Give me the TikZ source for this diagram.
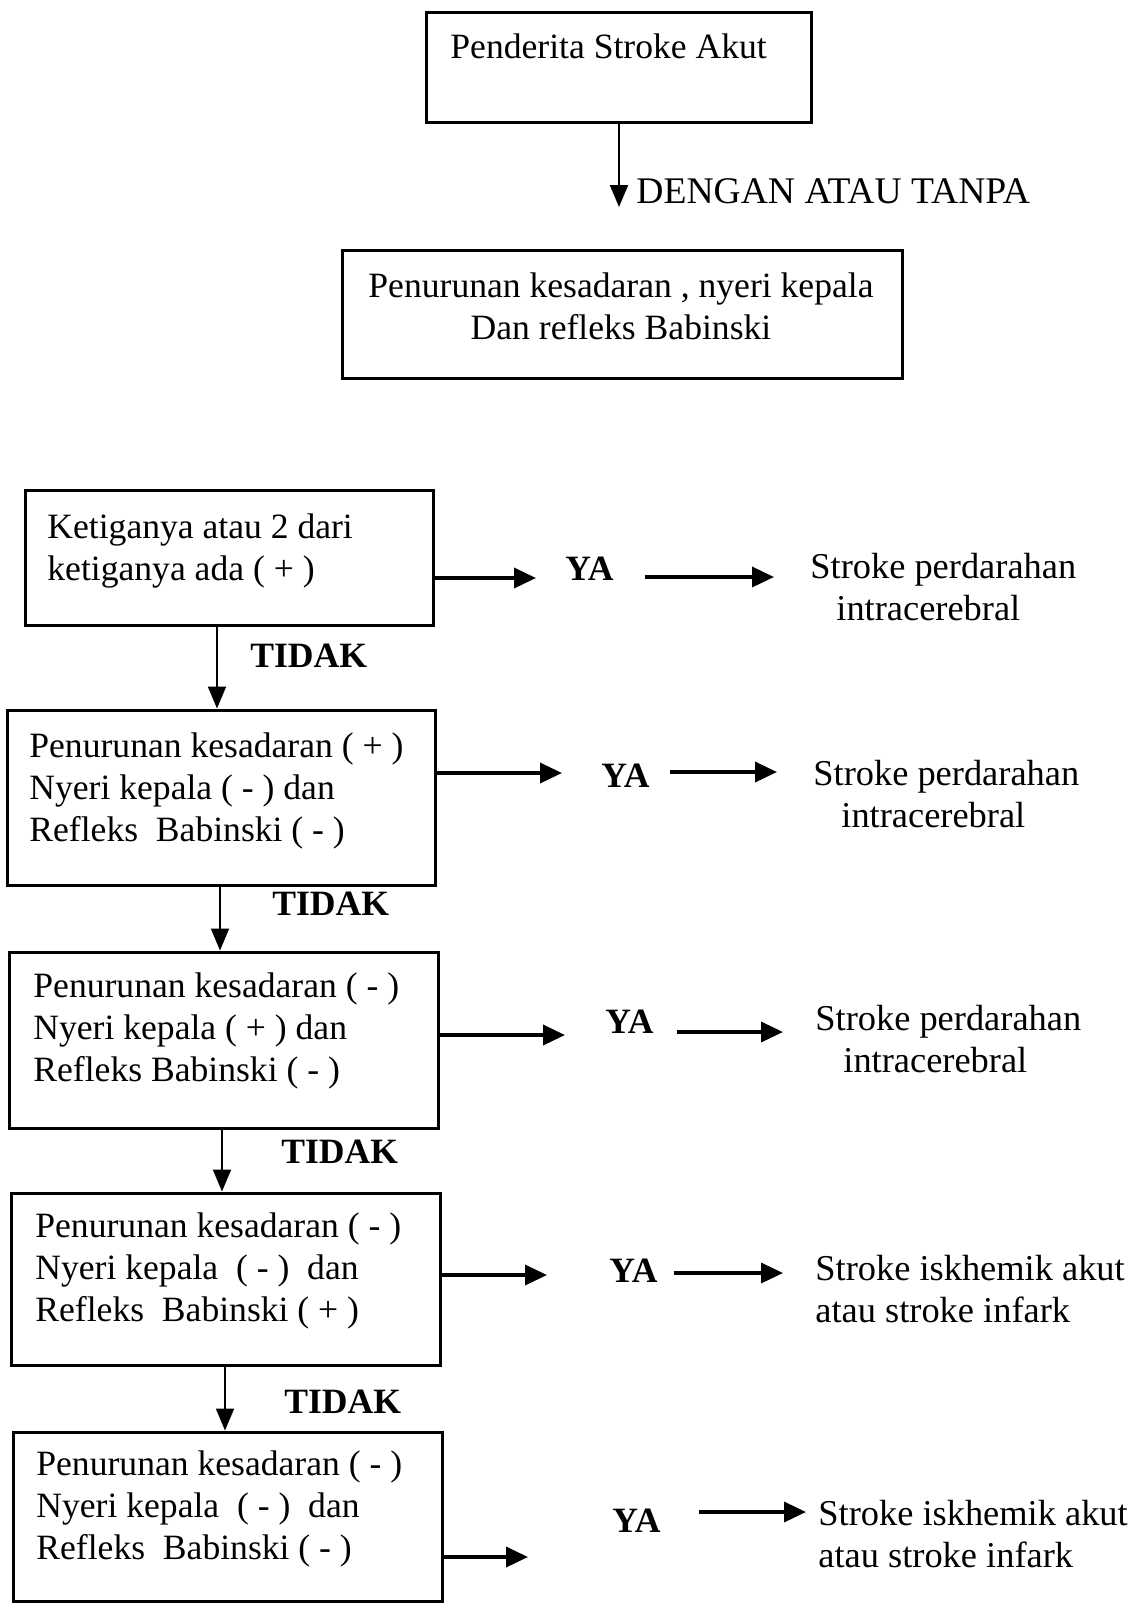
\documentclass[tikz,border=0pt]{standalone}
\usepackage{fontspec}
\setmainfont{Liberation Serif}
\usetikzlibrary{arrows.meta,fit,calc}
\begin{document}
\begin{tikzpicture}[x=0.5pt,y=-0.5pt,
  box/.style={draw, line width=1.5pt, inner sep=0pt},
  txt/.style={anchor=base west, inner sep=0pt, font=\fontsize{17.8}{21}\selectfont},
  rtxt/.style={txt, font=\fontsize{18.2}{21}\selectfont},
  btxt/.style={txt, font=\fontsize{17.8}{21}\selectfont\bfseries},
  varr/.style={line width=1pt, -{Triangle[length=11pt,width=9pt]}},
  harr/.style={line width=1.8pt, -{Triangle[length=11pt,width=10pt]}}
]
\useasboundingbox (0,0) rectangle (1131,1603);

% box corners
\coordinate (c1a) at (426,12);   \coordinate (c1b) at (811,122);
\coordinate (c2a) at (342,250);  \coordinate (c2b) at (902,378);
\coordinate (c3a) at (25,490);   \coordinate (c3b) at (433,625);
\coordinate (c4a) at (7,710);    \coordinate (c4b) at (435,885);
\coordinate (c5a) at (9,952);    \coordinate (c5b) at (438,1128);
\coordinate (c6a) at (11,1193);  \coordinate (c6b) at (440,1365);
\coordinate (c7a) at (13,1432);  \coordinate (c7b) at (442,1601);

% boxes
\node[box, fit=(c1a)(c1b)] (b1) {};
\node[box, fit=(c2a)(c2b)] (b2) {};
\node[box, fit=(c3a)(c3b)] (b3) {};
\node[box, fit=(c4a)(c4b)] (b4) {};
\node[box, fit=(c5a)(c5b)] (b5) {};
\node[box, fit=(c6a)(c6b)] (b6) {};
\node[box, fit=(c7a)(c7b)] (b7) {};

% box texts
\node[txt] (t1) at (450,58) {Penderita Stroke Akut};
\node[txt, anchor=base] (t2) at (621,297) {\begin{tabular}[t]{@{}c@{}}Penurunan kesadaran , nyeri kepala\\Dan refleks Babinski\end{tabular}};
\node[txt] (t3) at (47,538) {\begin{tabular}[t]{@{}l@{}}Ketiganya atau 2 dari\\ketiganya ada ( + )\end{tabular}};
\node[txt] (t4) at (29,757) {\begin{tabular}[t]{@{}l@{}}Penurunan kesadaran ( + )\\Nyeri kepala ( - ) dan\\Refleks\ \ Babinski ( - )\end{tabular}};
\node[txt] (t5) at (33,997) {\begin{tabular}[t]{@{}l@{}}Penurunan kesadaran ( - )\\Nyeri kepala ( + ) dan\\Refleks Babinski ( - )\end{tabular}};
\node[txt] (t6) at (35,1237) {\begin{tabular}[t]{@{}l@{}}Penurunan kesadaran ( - )\\Nyeri kepala\ \ ( - )\ \ dan\\Refleks\ \ Babinski ( + )\end{tabular}};
\node[txt] (t7) at (36,1475) {\begin{tabular}[t]{@{}l@{}}Penurunan kesadaran ( - )\\Nyeri kepala\ \ ( - )\ \ dan\\Refleks\ \ Babinski ( - )\end{tabular}};

% label under first arrow
\node[txt, font=\fontsize{18.8}{21}\selectfont] (dg) at (636,203) {DENGAN ATAU TANPA};

% TIDAK labels
\node[btxt] (n1) at (250,667) {TIDAK};
\node[btxt] (n2) at (272,915) {TIDAK};
\node[btxt] (n3) at (281,1163) {TIDAK};
\node[btxt] (n4) at (284,1413) {TIDAK};

% YA labels
\node[btxt] (y1) at (565,580) {YA};
\node[btxt] (y2) at (601,787) {YA};
\node[btxt] (y3) at (605,1033) {YA};
\node[btxt] (y4) at (609,1282) {YA};
\node[btxt] (y5) at (612,1532) {YA};

% results
\node[rtxt] (r1) at (810,578) {\begin{tabular}[t]{@{}l@{}}Stroke perdarahan\\\hspace*{13pt}intracerebral\end{tabular}};
\node[rtxt] (r2) at (813,785) {\begin{tabular}[t]{@{}l@{}}Stroke perdarahan\\\hspace*{14pt}intracerebral\end{tabular}};
\node[rtxt] (r3) at (815,1030) {\begin{tabular}[t]{@{}l@{}}Stroke perdarahan\\\hspace*{14pt}intracerebral\end{tabular}};
\node[rtxt] (r4) at (815,1280) {\begin{tabular}[t]{@{}l@{}}Stroke iskhemik akut\\atau stroke infark\end{tabular}};
\node[rtxt] (r5) at (818,1525) {\begin{tabular}[t]{@{}l@{}}Stroke iskhemik akut\\atau stroke infark\end{tabular}};

% vertical arrows
\coordinate (v0) at (619,207);
\draw[varr] (b1.south -| v0) -- (v0);
\coordinate (v1) at (217,0);
\coordinate (v2) at (220,0);
\coordinate (v3) at (222,0);
\coordinate (v4) at (225,0);
\draw[varr] (b3.south -| v1) -- (b4.north -| v1);
\draw[varr] (b4.south -| v2) -- (b5.north -| v2);
\draw[varr] (b5.south -| v3) -- (b6.north -| v3);
\draw[varr] (b6.south -| v4) -- (b7.north -| v4);

% horizontal arrows: box -> (toward YA)
\coordinate (h1) at (536,578);
\coordinate (h2) at (562,773);
\coordinate (h3) at (565,1035);
\coordinate (h4) at (547,1275);
\coordinate (h5) at (528,1557);
\draw[harr] (b3.east |- h1) -- (h1);
\draw[harr] (b4.east |- h2) -- (h2);
\draw[harr] (b5.east |- h3) -- (h3);
\draw[harr] (b6.east |- h4) -- (h4);
\draw[harr] (b7.east |- h5) -- (h5);

% YA -> result arrows
\coordinate (g1s) at (645,577); \coordinate (g1e) at (774,577);
\coordinate (g2s) at (670,772); \coordinate (g2e) at (777,772);
\coordinate (g3s) at (677,1032); \coordinate (g3e) at (783,1032);
\coordinate (g4s) at (674,1273); \coordinate (g4e) at (783,1273);
\coordinate (g5s) at (699,1512); \coordinate (g5e) at (806,1512);
\draw[harr] (g1s) -- (g1e);
\draw[harr] (g2s) -- (g2e);
\draw[harr] (g3s) -- (g3e);
\draw[harr] (g4s) -- (g4e);
\draw[harr] (g5s) -- (g5e);
\end{tikzpicture}
\end{document}
